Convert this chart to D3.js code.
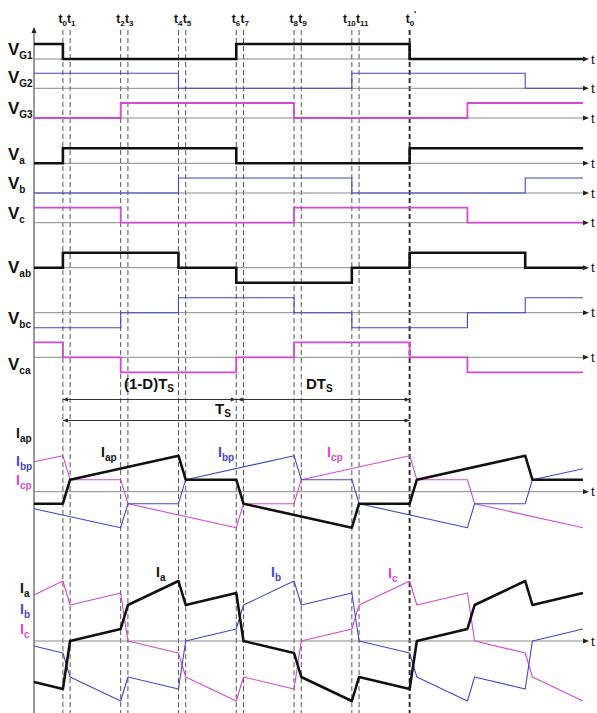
<!DOCTYPE html>
<html lang="en">
<head>
<meta charset="utf-8">
<title>Switching timing diagram</title>
<script src="https://cdn.jsdelivr.net/npm/d3@7"></script>
<style>
  body { margin: 0; background: #fff; }
  text { font-family: "Liberation Sans", Arial, sans-serif; }
</style>
</head>
<body>
<script>
// switching instants, in segment units (t0 = 0, Ts = 6 segments)
var instantTimes = [0, 0.125, 1, 1.125, 2, 2.125, 3, 3.125, 4, 4.125, 5, 5.125, 6];
var instantSubs = ["0", "1", "2", "3", "4", "5", "6", "7", "8", "9", "10", "11", "0"];

// gate and voltage waveforms, [time, level]
var vG1 = [[-0.5, 1], [0, 0], [3, 1], [6, 0], [9, 0]];
var vG2 = [[-0.5, 1], [2, 0], [5, 1], [8, 0], [9, 0]];
var vG3 = [[-0.5, 0], [1, 1], [4, 0], [7, 1], [9, 1]];
var vA  = [[-0.5, 0], [0, 1], [3, 0], [6, 1], [9, 1]];
var vB  = [[-0.5, 0], [2, 1], [5, 0], [8, 1], [9, 1]];
var vC  = [[-0.5, 1], [1, 0], [4, 1], [7, 0], [9, 0]];
var vAB = [[-0.5, 0], [0, 1], [2, 0], [3, -1], [5, 0], [6, 1], [8, 0], [9, 0]];
var vBC = [[-0.5, -1], [1, 0], [2, 1], [4, 0], [5, -1], [7, 0], [8, 1], [9, 1]];
var vCA = [[-0.5, 1], [0, 0], [1, -1], [3, 0], [4, 1], [6, 0], [7, -1], [9, -1]];

// primary-side currents, [time, value]
var iAp = [[-0.5, -12], [0, -12], [0.125, 12], [2, 36], [2.125, 12], [3, 12], [3.125, -12], [5, -36],
           [5.125, -12], [6, -12], [6.125, 12], [8, 36], [8.125, 12], [9, 12]];
var iBp = [[-0.5, -17], [1, -36], [1.125, -12], [2, -12], [2.125, 12], [4, 36], [4.125, 12], [5, 12],
           [5.125, -12], [7, -36], [7.125, -12], [8, -12], [8.125, 12], [9, 23]];
var iCp = [[-0.5, 30], [0, 36], [0.125, 12], [1, 12], [1.125, -12], [3, -36], [3.125, -12], [4, -12],
           [4.125, 12], [6, 36], [6.125, 12], [7, 12], [7.125, -12], [9, -36]];

// phase currents, [time, value]
var iA = [[-0.5, -41], [0, -48], [0.125, 0], [1, 12], [1.125, 36], [2, 60], [2.125, 36], [3, 48],
          [3.125, 0], [4, -12], [4.125, -36], [5, -60], [5.125, -36], [6, -48], [6.125, 0], [7, 12],
          [7.125, 36], [8, 60], [8.125, 36], [9, 48]];
var iB = [[-0.5, -5], [0, -12], [0.125, -36], [1, -60], [1.125, -36], [2, -48], [2.125, 0], [3, 12],
          [3.125, 36], [4, 60], [4.125, 36], [5, 48], [5.125, 0], [6, -12], [6.125, -36], [7, -60],
          [7.125, -36], [8, -48], [8.125, 0], [9, 12]];
var iC = [[-0.5, 46], [0, 60], [0.125, 36], [1, 48], [1.125, 0], [2, -12], [2.125, -36], [3, -60],
          [3.125, -36], [4, -48], [4.125, 0], [5, 12], [5.125, 36], [6, 60], [6.125, 36], [7, 48],
          [7.125, 0], [8, -12], [8.125, -36], [9, -60]];

var rowSubs = ["G1", "G2", "G3", "a", "b", "c", "ab", "bc", "ca"];
var rowSeries = [vG1, vG2, vG3, vA, vB, vC, vAB, vBC, vCA];

// layout
var W = 597, H = 713;
var rowBase = [59, 88.3, 118, 163.3, 193, 222.7, 267.7, 312.7, 357.3];
var rowLabelY = [55, 83.3, 114, 160, 189.3, 219.3, 273.3, 324, 370];
var amp = 15;
var zero1 = 491.7, zero2 = 641;
var colors = ["#111", "#4646c8", "#d24ad2"];
var widths = [2.6, 1.1, 1.8];

var svg = d3.select("body").append("svg")
    .attr("width", W).attr("height", H);

var x = d3.scaleLinear().domain([-0.5, 9]).range([34, 583]);

function head(px, py, dir, len, hw) {
  // small filled arrow head, tip at (px,py); dir: "r","l","u"
  if (dir == "r") return "M" + px + "," + py + "L" + (px - len) + "," + (py - hw) + "L" + (px - len) + "," + (py + hw) + "Z";
  if (dir == "l") return "M" + px + "," + py + "L" + (px + len) + "," + (py - hw) + "L" + (px + len) + "," + (py + hw) + "Z";
  return "M" + px + "," + py + "L" + (px - hw) + "," + (py + len) + "L" + (px + hw) + "," + (py + len) + "Z";
}

// dashed instant lines
svg.selectAll("line.inst")
  .data(instantTimes)
  .enter().append("line")
  .attr("x1", function(d) { return x(d); })
  .attr("x2", function(d) { return x(d); })
  .attr("y1", 30).attr("y2", H)
  .attr("stroke", function(d, i) { return i == 12 ? "#333" : "#555"; })
  .attr("stroke-width", function(d, i) { return i == 12 ? 2 : 1; })
  .attr("stroke-dasharray", "5,3");

var tl = svg.selectAll("text.inst")
  .data(instantTimes)
  .enter().append("text")
  .attr("x", function(d, i) { return i == 12 ? x(d) - 4 : (i % 2 == 0 ? x(d) + 4 : x(d) - 3); })
  .attr("y", 23)
  .attr("text-anchor", function(d, i) { return i == 12 ? "start" : (i % 2 == 0 ? "end" : "start"); })
  .attr("font-size", 12).attr("font-weight", "bold").attr("fill", "#111");
tl.append("tspan").text("t");
tl.append("tspan").attr("dy", 3).attr("font-size", 8).text(function(d, i) { return instantSubs[i]; });
tl.filter(function(d, i) { return i == 12; })
  .append("tspan").attr("dy", -9).attr("font-size", 9).text("'");

// horizontal time axes
var axisYs = rowBase.concat([zero1, zero2]);
svg.selectAll("line.ax")
  .data(axisYs)
  .enter().append("line")
  .attr("x1", 34).attr("x2", 585)
  .attr("y1", function(d) { return d; }).attr("y2", function(d) { return d; })
  .attr("stroke", "#888").attr("stroke-width", 1);
svg.selectAll("path.axh")
  .data(axisYs)
  .enter().append("path")
  .attr("d", function(d) { return head(589, d, "r", 6, 2.5); })
  .attr("fill", "#222");
svg.selectAll("text.axt")
  .data(axisYs)
  .enter().append("text")
  .attr("x", 591).attr("y", function(d) { return d + 4.5; })
  .attr("font-size", 13).attr("fill", "#111")
  .text("t");

// vertical axis
svg.append("line")
  .attr("x1", 34).attr("x2", 34).attr("y1", 32).attr("y2", H)
  .attr("stroke", "#777").attr("stroke-width", 1.5);
svg.append("path").attr("d", head(34, 27, "u", 6, 2.5)).attr("fill", "#222");

// voltage rows
rowSeries.forEach(function(series, i) {
  var y = d3.scaleLinear().domain([0, 1]).range([rowBase[i], rowBase[i] - amp]);
  var line = d3.line()
    .x(function(d) { return x(d[0]); })
    .y(function(d) { return y(d[1]); })
    .curve(d3.curveStepAfter);
  svg.append("path")
    .attr("d", line(series))
    .attr("fill", "none")
    .attr("stroke", colors[i % 3])
    .attr("stroke-width", widths[i % 3]);

  var lab = svg.append("text")
    .attr("x", 8).attr("y", rowLabelY[i])
    .attr("font-size", 17).attr("font-weight", "bold").attr("fill", "#111");
  lab.append("tspan").text("V");
  lab.append("tspan").attr("dy", 4).attr("font-size", 10).text(rowSubs[i]);
});

// time span arrows
var spanY1 = 399.5, spanY2 = 420.5;
svg.append("line").attr("x1", x(0)).attr("x2", x(6)).attr("y1", spanY1).attr("y2", spanY1)
  .attr("stroke", "#333").attr("stroke-width", 1);
svg.append("line").attr("x1", x(0)).attr("x2", x(6)).attr("y1", spanY2).attr("y2", spanY2)
  .attr("stroke", "#333").attr("stroke-width", 1);
[[x(0), spanY1, "l"], [x(3) - 0.5, spanY1, "r"], [x(3) + 1.5, spanY1, "l"], [x(6), spanY1, "r"],
 [x(0), spanY2, "l"], [x(6), spanY2, "r"]].forEach(function(a) {
  svg.append("path").attr("d", head(a[0], a[1], a[2], 5, 2)).attr("fill", "#222");
});

function subLabel(px, py, main, sub, size, subSize, color, dy) {
  var t = svg.append("text").attr("x", px).attr("y", py)
    .attr("font-size", size).attr("font-weight", "bold").attr("fill", color);
  t.append("tspan").text(main);
  t.append("tspan").attr("dy", dy).attr("font-size", subSize).text(sub);
  return t;
}
subLabel(124, 389, "(1-D)T", "S", 15, 10, "#111", 3);
subLabel(306, 389, "DT", "S", 15, 10, "#111", 3);
subLabel(215, 414, "T", "S", 15, 10, "#111", 3);

// current panels: series given as [a, b, c], black drawn last so it sits on top
function drawCurrents(series, zero) {
  var y = d3.scaleLinear().domain([-60, 60]).range([zero + 60, zero - 60]);
  var line = d3.line()
    .x(function(d) { return x(d[0]); })
    .y(function(d) { return y(d[1]); });
  [2, 1, 0].forEach(function(i) {
    svg.append("path")
      .attr("d", line(series[i]))
      .attr("fill", "none")
      .attr("stroke", colors[i])
      .attr("stroke-width", i == 0 ? 2.6 : 1.1)
      .attr("stroke-linejoin", "round");
  });
}
drawCurrents([iAp, iBp, iCp], zero1);
drawCurrents([iA, iB, iC], zero2);

// current labels
subLabel(16, 438, "I", "ap", 14, 10, colors[0], 4);
subLabel(16, 465.7, "I", "bp", 14, 10, colors[1], 4);
subLabel(16, 485, "I", "cp", 14, 10, colors[2], 4);
subLabel(101, 457.3, "I", "ap", 14, 10, colors[0], 4);
subLabel(218, 457.3, "I", "bp", 14, 10, colors[1], 4);
subLabel(327, 457.3, "I", "cp", 14, 10, colors[2], 4);

subLabel(20, 593.3, "I", "a", 14, 10, colors[0], 4);
subLabel(20, 614, "I", "b", 14, 10, colors[1], 4);
subLabel(20, 634, "I", "c", 14, 10, colors[2], 4);
subLabel(156, 576.7, "I", "a", 14, 10, colors[0], 4);
subLabel(271, 576.7, "I", "b", 14, 10, colors[1], 4);
subLabel(388, 578, "I", "c", 14, 10, colors[2], 4);
</script>
</body>
</html>
